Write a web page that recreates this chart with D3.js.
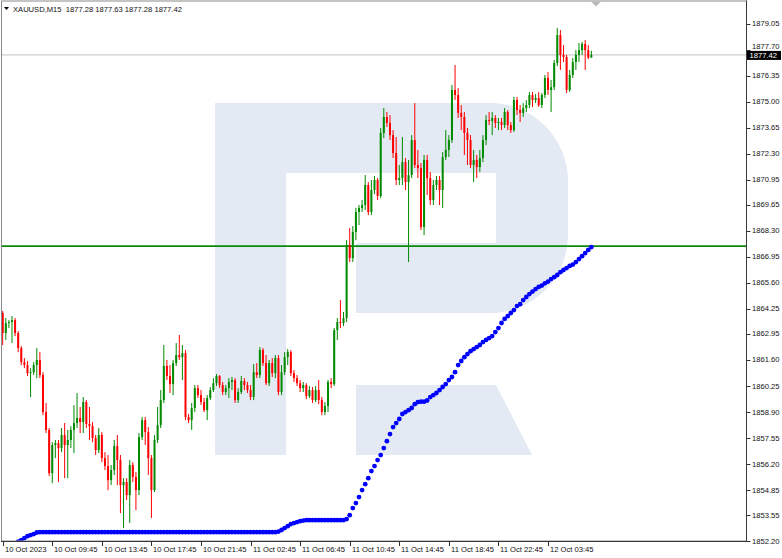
<!DOCTYPE html>
<html><head><meta charset="utf-8">
<script src="https://cdn.jsdelivr.net/npm/d3@7"></script>
<style>html,body{margin:0;padding:0;background:#fff;overflow:hidden}svg{display:block}</style>
</head><body><svg id="c" width="782" height="558"></svg>
<script>
const symbolTitle = "XAUUSD,M15";
const headerPrices = ["1877.28", "1877.63", "1877.28", "1877.42"];

const opens = [1864.03,1862.99,1863.51,1863.56,1863.66,1862.99,1862.21,1861.48,1861.33,1860.91,
1860.96,1861.33,1861.59,1860.81,1858.89,1857.96,1855.72,1857.18,1857.28,1857.02,
1857.70,1857.18,1857.44,1857.96,1858.32,1858.58,1858.37,1859.41,1858.27,1858.16,
1857.54,1856.92,1857.70,1856.50,1856.09,1855.36,1855.88,1857.12,1856.40,1855.10,
1855.26,1854.58,1856.14,1855.52,1854.84,1857.59,1858.47,1857.85,1856.50,1854.84,
1857.44,1858.21,1859.51,1861.28,1860.76,1860.34,1861.43,1861.85,1861.74,1861.95,
1858.63,1858.47,1859.10,1860.13,1859.77,1859.41,1858.99,1859.62,1860.03,1860.39,
1860.76,1860.29,1859.93,1860.13,1860.45,1860.55,1859.51,1859.93,1860.50,1860.29,
1860.03,1859.67,1860.96,1860.81,1862.11,1861.43,1860.39,1861.43,1860.91,1861.69,
1859.93,1860.96,1861.74,1862.00,1860.91,1860.65,1860.39,1860.13,1860.29,1859.72,
1860.03,1859.51,1860.03,1859.51,1858.89,1859.20,1860.45,1860.34,1863.14,1863.56,
1863.51,1863.77,1867.56,1866.88,1868.23,1869.27,1869.48,1869.63,1870.67,1869.27,
1870.41,1870.93,1870.10,1873.37,1874.20,1873.89,1873.26,1872.33,1870.93,1871.03,
1871.86,1870.82,1871.19,1873.00,1871.71,1871.55,1868.49,1871.97,1871.03,1869.89,
1870.67,1870.93,1870.41,1872.12,1872.49,1873.00,1875.60,1875.34,1874.41,1874.20,
1873.37,1873.00,1871.71,1871.97,1871.60,1872.07,1873.00,1874.04,1873.99,1874.15,
1873.89,1873.94,1873.78,1874.46,1873.78,1873.52,1875.08,1874.56,1874.41,1874.66,
1874.82,1875.34,1875.08,1875.18,1874.82,1875.34,1876.22,1875.60,1875.75,1877.00,
1878.45,1877.42,1877.31,1875.60,1876.38,1877.05,1877.42,1877.67,1877.99,1877.67,
1877.28];

const highs = [1864.13,1863.77,1863.66,1863.87,1863.77,1863.09,1862.31,1861.69,1861.54,1861.17,
1861.48,1862.21,1862.00,1860.96,1859.36,1858.06,1857.33,1857.44,1857.44,1858.06,
1858.32,1857.96,1858.16,1859.25,1859.88,1859.15,1859.67,1859.51,1859.15,1858.37,
1857.70,1858.06,1857.85,1856.81,1856.66,1856.14,1857.44,1857.70,1856.66,1855.46,
1855.46,1856.40,1856.29,1855.78,1857.80,1858.63,1858.63,1858.11,1856.66,1857.70,
1859.15,1860.03,1862.37,1861.59,1861.33,1861.59,1862.47,1862.89,1862.37,1862.11,
1858.79,1859.36,1860.29,1860.29,1860.03,1859.62,1859.77,1860.19,1860.65,1860.86,
1860.81,1860.45,1860.29,1860.65,1860.71,1860.65,1860.13,1860.76,1860.65,1860.45,
1860.29,1861.38,1861.43,1862.26,1862.21,1861.85,1861.59,1861.69,1861.85,1861.85,
1861.33,1862.00,1862.16,1862.11,1861.07,1860.81,1860.55,1860.45,1860.39,1860.24,
1860.19,1860.24,1860.55,1859.67,1859.41,1860.55,1860.65,1863.25,1863.77,1864.70,
1864.08,1867.81,1868.44,1868.54,1869.48,1869.63,1869.89,1871.19,1870.82,1870.93,
1871.14,1871.03,1873.63,1874.66,1874.46,1874.30,1873.52,1873.16,1871.71,1873.16,
1872.07,1871.97,1873.26,1874.92,1872.49,1871.81,1872.23,1872.23,1871.34,1870.93,
1871.14,1871.14,1872.38,1873.52,1873.26,1875.86,1876.90,1875.70,1874.82,1874.46,
1873.63,1873.26,1872.49,1872.23,1872.49,1873.26,1874.30,1874.46,1874.46,1874.30,
1874.15,1874.15,1874.66,1874.56,1873.94,1875.24,1875.24,1874.82,1874.92,1875.08,
1875.50,1875.50,1875.39,1875.50,1875.44,1876.38,1876.53,1876.12,1877.16,1878.82,
1878.71,1877.93,1877.42,1876.64,1877.26,1877.67,1878.04,1878.09,1878.19,1877.93,
1877.63];

const lows = [1862.36,1862.63,1863.25,1862.47,1862.83,1862.00,1861.33,1861.17,1860.76,1859.67,
1860.81,1860.65,1860.65,1858.73,1857.80,1855.57,1855.20,1856.50,1855.26,1856.81,
1855.46,1855.46,1857.02,1856.76,1858.06,1857.80,1857.80,1858.06,1857.44,1857.33,
1856.66,1856.76,1856.29,1855.88,1854.84,1855.10,1855.62,1855.10,1853.65,1852.87,
1854.32,1853.13,1855.26,1853.80,1854.58,1857.44,1857.18,1855.62,1853.39,1854.74,
1857.28,1858.06,1859.36,1860.55,1859.88,1859.77,1861.28,1861.59,1860.55,1858.47,
1858.32,1857.96,1858.89,1859.62,1859.25,1858.89,1858.47,1859.51,1859.93,1860.24,
1860.13,1859.77,1859.77,1859.62,1860.03,1859.36,1859.36,1859.82,1860.03,1859.88,
1859.51,1859.51,1860.65,1860.65,1861.28,1860.29,1860.24,1860.71,1860.65,1859.77,
1859.77,1860.81,1861.33,1860.76,1860.45,1860.24,1859.93,1859.93,1859.56,1859.62,
1859.36,1859.41,1859.30,1858.73,1858.73,1858.89,1860.13,1860.24,1862.63,1863.25,
1863.35,1863.56,1866.67,1866.67,1867.81,1868.59,1869.27,1869.37,1869.11,1869.11,
1870.20,1869.89,1869.99,1873.11,1873.68,1873.00,1872.07,1870.67,1870.67,1870.67,
1870.41,1866.67,1871.03,1871.55,1871.03,1868.33,1868.07,1870.15,1869.63,1869.63,
1870.41,1869.63,1869.48,1871.97,1872.12,1872.85,1875.08,1874.15,1873.52,1872.23,
1871.71,1871.55,1870.82,1871.03,1871.34,1871.86,1872.74,1873.78,1873.26,1873.63,
1873.52,1873.52,1873.63,1873.52,1873.37,1873.42,1874.30,1873.94,1874.20,1874.46,
1874.66,1874.72,1874.92,1874.72,1874.66,1875.18,1875.34,1874.46,1875.60,1876.84,
1876.64,1877.05,1875.44,1875.50,1876.22,1876.64,1877.05,1877.42,1876.64,1877.20,
1877.28];

const closes = [1862.99,1863.51,1863.56,1863.66,1862.99,1862.21,1861.48,1861.33,1860.91,1860.96,
1861.33,1861.59,1860.81,1858.89,1857.96,1855.72,1857.18,1857.28,1857.02,1857.70,
1857.18,1857.44,1857.96,1858.32,1858.58,1858.37,1859.41,1858.27,1858.16,1857.54,
1856.92,1857.70,1856.50,1856.09,1855.36,1855.88,1857.12,1856.40,1855.10,1855.26,
1854.58,1856.14,1855.52,1854.84,1857.59,1858.47,1857.85,1856.50,1854.84,1857.44,
1858.21,1859.51,1861.28,1860.76,1860.34,1861.43,1861.85,1861.74,1861.95,1858.63,
1858.47,1859.10,1860.13,1859.77,1859.41,1858.99,1859.62,1860.03,1860.39,1860.76,
1860.29,1859.93,1860.13,1860.45,1860.55,1859.51,1859.93,1860.50,1860.29,1860.03,
1859.67,1860.96,1860.81,1862.11,1861.43,1860.39,1861.43,1860.91,1861.69,1859.93,
1860.96,1861.74,1862.00,1860.91,1860.65,1860.39,1860.13,1860.29,1859.72,1860.03,
1859.51,1860.03,1859.51,1858.89,1859.20,1860.45,1860.34,1863.14,1863.56,1863.51,
1863.77,1867.56,1866.88,1868.23,1869.27,1869.48,1869.63,1870.67,1869.27,1870.41,
1870.93,1870.10,1873.37,1874.20,1873.89,1873.26,1872.33,1870.93,1871.03,1871.86,
1870.82,1871.19,1873.00,1871.71,1871.55,1868.49,1871.97,1871.03,1869.89,1870.67,
1870.93,1870.41,1872.12,1872.49,1873.00,1875.60,1875.34,1874.41,1874.20,1873.37,
1873.00,1871.71,1871.97,1871.60,1872.07,1873.00,1874.04,1873.99,1874.15,1873.89,
1873.94,1873.78,1874.46,1873.78,1873.52,1875.08,1874.56,1874.41,1874.66,1874.82,
1875.34,1875.08,1875.18,1874.82,1875.34,1876.22,1875.60,1875.75,1877.00,1878.45,
1877.42,1877.31,1875.60,1876.38,1877.05,1877.42,1877.67,1877.99,1877.67,1877.28,
1877.42];

const indicator = [null,null,null,null,null,
1852.17,1852.25,1852.35,1852.45,1852.51,1852.56,1852.64,1852.66,
1852.66,1852.66,1852.66,1852.66,1852.66,1852.66,1852.66,1852.66,1852.66,1852.66,
1852.66,1852.66,1852.66,1852.66,1852.66,1852.66,1852.66,1852.66,1852.66,1852.66,
1852.66,1852.66,1852.66,1852.66,1852.66,1852.66,1852.66,1852.66,1852.66,1852.66,
1852.66,1852.66,1852.66,1852.66,1852.66,1852.66,1852.66,1852.66,1852.66,1852.66,
1852.66,1852.66,1852.66,1852.66,1852.66,1852.66,1852.66,1852.66,1852.66,1852.66,
1852.66,1852.66,1852.66,1852.66,1852.66,1852.66,1852.66,1852.66,1852.66,1852.66,
1852.66,1852.66,1852.66,1852.66,1852.66,1852.66,1852.66,1852.66,1852.66,1852.66,
1852.66,1852.66,1852.66,1852.66,1852.66,1852.66,
1852.69,1852.77,1852.87,1852.97,1853.08,1853.13,1853.18,1853.23,1853.26,
1853.28,1853.28,1853.28,1853.28,1853.28,1853.28,1853.28,1853.28,1853.28,1853.28,1853.28,1853.28,1853.28,
1853.34,1853.54,1853.91,1854.17,1854.48,1854.84,1855.15,1855.46,1855.83,1856.09,
1856.40,1856.66,1857.02,1857.38,1857.75,1858.11,1858.32,1858.53,1858.79,1858.89,
1858.99,1859.10,1859.30,1859.41,1859.43,1859.43,1859.49,1859.67,1859.77,1859.88,
1860.03,1860.19,1860.34,1860.55,1860.71,1860.96,1861.33,1861.54,1861.74,1861.90,
1862.05,1862.16,1862.26,1862.37,1862.52,1862.63,1862.73,1862.83,1863.04,1863.25,
1863.51,1863.72,1863.87,1864.03,1864.18,1864.39,1864.49,1864.70,1864.86,1865.01,
1865.14,1865.27,1865.38,1865.45,1865.57,1865.66,1865.79,1865.89,1866.00,1866.15,
1866.26,1866.36,1866.47,1866.54,1866.67,1866.83,1866.98,1867.14,1867.30,1867.45];

const levelPrice = 1867.50;
const lastPrice = 1877.42;
const priceTicks = [1879.05,1877.70,1876.35,1875.00,1873.65,1872.30,1870.95,1869.65,1868.30,1866.95,
1865.60,1864.25,1862.95,1861.60,1860.25,1858.90,1857.55,1856.20,1854.85,1853.55,1852.20];
const timeTickBars = [0,16,32,48,64,80,96,112,128,144,160,176];
const timeTickLabels = ["10 Oct 2023","10 Oct 09:45","10 Oct 13:45","10 Oct 17:45","10 Oct 21:45",
"11 Oct 02:45","11 Oct 06:45","11 Oct 10:45","11 Oct 14:45","11 Oct 18:45","11 Oct 22:45","12 Oct 03:45"];

const bars = opens.map((o, i) => ({i, o, h: highs[i], l: lows[i], c: closes[i]}));

const svg = d3.select("#c");
const P = {left: 2, right: 746, top: 1.5, bottom: 541};
const FONT = "'Liberation Sans', Arial, sans-serif";

const x = d3.scaleLinear().domain([0, 176]).range([2.7, 548]);
const y = d3.scaleLinear().domain([1852.20, 1879.05]).range([541, 23.5]);

svg.append("rect").attr("width", 782).attr("height", 558).attr("fill", "#fff");

svg.append("defs").append("clipPath").attr("id", "clip")
  .append("rect").attr("x", P.left).attr("y", P.top)
  .attr("width", P.right - P.left).attr("height", P.bottom - P.top);

// watermark logo (decoration)
const wm = svg.append("g").attr("fill", "#e4eaf3");
wm.append("rect").attr("x", 215).attr("y", 103).attr("width", 71).attr("height", 352);
wm.append("path").attr("d",
  "M286,103 H490 A78,78 0 0 1 568,181 V235 A78,78 0 0 1 490,313 H356 V243 H496 V173 H286 Z");
wm.append("path").attr("d", "M356,385 H496 L532,455 H356 Z");

const g = svg.append("g").attr("clip-path", "url(#clip)");

// last price line
g.append("line").attr("x1", P.left).attr("x2", P.right)
  .attr("y1", y(lastPrice)).attr("y2", y(lastPrice))
  .attr("stroke", "#c0c0c0").attr("stroke-width", 1);

// green level line
g.append("line").attr("x1", P.left).attr("x2", P.right)
  .attr("y1", y(levelPrice)).attr("y2", y(levelPrice))
  .attr("stroke", "#0a8a0a").attr("stroke-width", 1.6);

// candles
const up = "#008a00", dn = "#ff0000";
const cg = g.append("g");
cg.selectAll("line.w").data(bars).join("line").attr("class", "w")
  .attr("x1", d => x(d.i)).attr("x2", d => x(d.i))
  .attr("y1", d => y(d.h)).attr("y2", d => y(d.l))
  .attr("stroke", d => d.c >= d.o ? up : dn).attr("stroke-width", 1);
cg.selectAll("rect.b").data(bars).join("rect").attr("class", "b")
  .attr("x", d => x(d.i) - 1).attr("width", 2)
  .attr("y", d => y(Math.max(d.o, d.c)))
  .attr("height", d => Math.max(1, Math.abs(y(d.o) - y(d.c))))
  .attr("fill", d => d.c >= d.o ? up : dn);

// indicator dots
g.append("g").selectAll("circle")
  .data(indicator.map((v, i) => ({i, v})).filter(d => d.v !== null))
  .join("circle")
  .attr("cx", d => x(d.i)).attr("cy", d => y(d.v)).attr("r", 2.4)
  .attr("fill", "#0000ff");

// frame
svg.append("rect").attr("x", P.left - 0.5).attr("y", P.top - 0.5)
  .attr("width", P.right - P.left + 1).attr("height", P.bottom - P.top + 0.5)
  .attr("fill", "none").attr("stroke", "#8a8a8a").attr("stroke-width", 1);
svg.append("line").attr("x1", P.right + 0.5).attr("x2", P.right + 0.5)
  .attr("y1", P.top - 1).attr("y2", P.bottom + 0.5).attr("stroke", "#3a3a3a");
svg.append("line").attr("x1", P.left - 1).attr("x2", P.right + 1)
  .attr("y1", P.bottom + 0.5).attr("y2", P.bottom + 0.5).attr("stroke", "#3a3a3a");

// chart shift marker
svg.append("path").attr("d", "M591,1.5 L601,1.5 L596,6.5 Z").attr("fill", "#b8b8b8");

// right price axis
const ya = svg.append("g").attr("font-family", FONT).attr("font-size", "7.6px").attr("fill", "#111");
const boxTop = y(lastPrice) - 4, boxH = 9;
priceTicks.forEach(p => {
  const ty = y(p);
  // keep a label that would sit under the last-price box just above it
  const labelY = (ty + 4 > boxTop && ty - 4 < boxTop + boxH) ? boxTop - 4.3 : ty;
  ya.append("line").attr("x1", 747).attr("x2", 750.5)
    .attr("y1", Math.round(ty) + 0.5).attr("y2", Math.round(ty) + 0.5).attr("stroke", "#333");
  ya.append("text").attr("x", 752).attr("y", labelY).attr("dy", "0.35em").text(p.toFixed(2));
});
// last price box
ya.append("rect").attr("x", 747).attr("y", boxTop).attr("width", 34).attr("height", boxH).attr("fill", "#000");
ya.append("text").attr("x", 749.5).attr("y", y(lastPrice) + 0.5).attr("dy", "0.35em")
  .attr("fill", "#fff").text(lastPrice.toFixed(2));

// bottom time axis
const xa = svg.append("g").attr("font-family", FONT).attr("font-size", "7.6px").attr("fill", "#111");
timeTickBars.forEach((b, k) => {
  const xx = Math.round(x(b)) + 0.5;
  xa.append("line").attr("x1", xx).attr("x2", xx).attr("y1", 541).attr("y2", 546).attr("stroke", "#333");
  xa.append("text").attr("x", xx + 1.5).attr("y", 552).text(timeTickLabels[k]);
});

// header
svg.append("path").attr("d", "M4,7 L9,7 L6.5,10 Z").attr("fill", "#000");
svg.append("text").attr("x", 13).attr("y", 12).attr("font-family", FONT).attr("font-size", "7.6px")
  .attr("fill", "#111").attr("xml:space", "preserve")
  .text(symbolTitle + "  " + headerPrices.join(" "));
</script></body></html>
